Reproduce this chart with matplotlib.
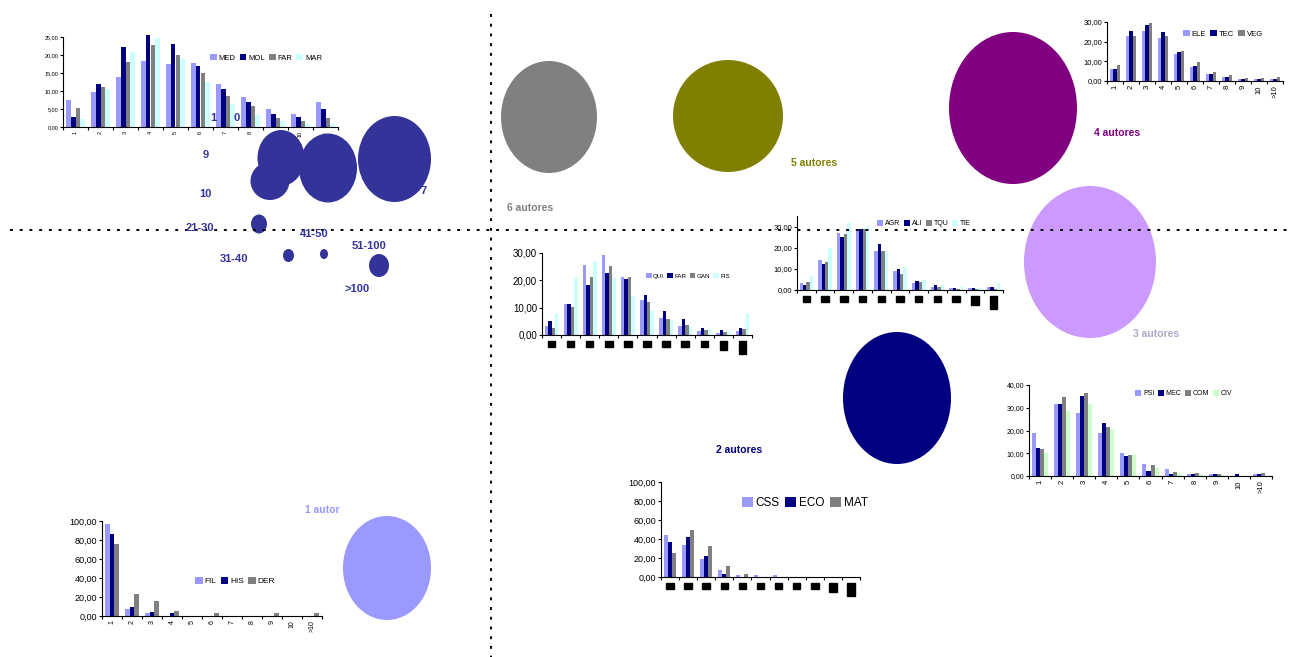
import matplotlib
matplotlib.use('Agg')
import matplotlib.pyplot as plt
from matplotlib.patches import Ellipse

plt.rcParams['font.family'] = ['Liberation Sans', 'DejaVu Sans']

W, H = 1290, 657

# categorias (numero de autores)
cats = ['1', '2', '3', '4', '5', '6', '7', '8', '9', '10', '>10']

# grafico arriba izquierda
med = [7.4, 9.7, 13.8, 18.3, 17.5, 17.9, 11.9, 8.3, 5.1, 3.7, 6.9]
mol = [2.8, 11.9, 22.1, 25.5, 23.0, 17.0, 10.6, 6.9, 3.7, 2.8, 5.1]
far1 = [5.2, 11.2, 18.1, 22.7, 19.9, 14.9, 8.5, 5.7, 2.5, 1.6, 2.5]
mar = [2.3, 10.6, 20.7, 24.8, 18.8, 12.4, 6.4, 3.2, 1.8, 0.9, 0.9]

# grafico arriba derecha
ele = [6.0, 23.0, 25.5, 22.1, 13.6, 7.0, 3.6, 1.9, 1.0, 1.0, 1.0]
tec = [6.0, 25.5, 28.6, 24.7, 14.5, 7.7, 3.6, 1.9, 1.0, 1.0, 1.0]
veg = [8.0, 23.0, 29.3, 23.0, 15.5, 9.7, 4.6, 2.9, 1.4, 1.4, 2.2]

# grafico centro
qui = [3.3, 11.3, 25.7, 29.4, 21.4, 12.9, 6.4, 3.3, 1.5, 0.6, 1.5]
far2 = [5.1, 11.3, 18.4, 22.6, 20.4, 14.7, 8.8, 5.8, 2.7, 1.7, 2.7]
gan = [2.4, 10.4, 21.2, 25.3, 21.2, 12.1, 5.9, 3.7, 1.8, 1.2, 2.2]
fis = [8.2, 21.4, 27.2, 20.8, 14.3, 8.8, 5.5, 3.1, 2.1, 1.5, 8.2]

# grafico centro derecha
agr = [3.2, 14.2, 26.8, 28.7, 18.5, 9.0, 3.5, 1.6, 0.8, 0.8, 1.6]
ali = [2.4, 12.2, 25.3, 28.7, 21.6, 9.8, 4.3, 2.4, 0.8, 0.8, 1.6]
tqu = [3.6, 13.4, 26.4, 28.9, 18.6, 7.7, 3.8, 1.4, 0.3, 0.3, 0.3]
tie = [6.6, 20.0, 31.6, 30.3, 18.2, 11.1, 4.7, 2.4, 1.6, 1.1, 3.2]

# grafico derecha
psi = [19.1, 31.5, 27.9, 19.1, 10.3, 5.1, 2.9, 0.7, 0.7, 0.0, 0.7]
mec = [12.5, 31.5, 35.3, 23.5, 8.8, 2.2, 0.7, 0.7, 0.7, 0.7, 0.7]
com = [12.0, 34.9, 36.3, 21.6, 9.1, 4.7, 1.8, 1.5, 0.7, 0.0, 1.2]
civ = [10.3, 28.5, 31.5, 20.6, 9.4, 3.7, 1.5, 0.7, 0.4, 0.0, 0.0]

# grafico abajo izquierda
fil = [97.2, 7.7, 2.8, 0, 0, 0, 0, 0, 0, 0, 0]
his = [86.7, 9.5, 4.2, 2.8, 0, 0, 0, 0, 0, 0, 0]
der = [75.4, 22.8, 15.8, 5.3, 0, 3.5, 0, 0, 3.5, 0, 3.5]

# grafico abajo centro
css = [43.9, 34.0, 19.3, 7.0, 1.8, 1.8, 1.8, 0, 0, 0, 0]
eco = [36.8, 42.1, 21.8, 3.5, 0, 0, 0, 0, 0, 0, 0]
mat = [25.6, 49.8, 32.3, 11.6, 2.8, 0, 0, 0, 0, 0, 0]

LILA = '#9999FF'
NAVY = '#000080'
GRIS = '#808080'
CIAN = '#CCFFFF'
VERDE = '#CCFFCC'
AZUL = '#333399'

fig = plt.figure(figsize=(W / 100, H / 100), dpi=100)


def px_axes(x0, ytop, x1, ybot):
    return fig.add_axes([x0 / W, 1 - ybot / H, (x1 - x0) / W, (ybot - ytop) / H])


def draw_chart(rect, series, names, colors, ymax, yticks, yfs, xfs,
               leg_xy, legfs, blocks=False):
    ax = px_axes(*rect)
    n = len(series)
    w = 1 / (n + 1.5)
    for i, (vals, name, col) in enumerate(zip(series, names, colors)):
        xs = [k - n * w / 2 + (i + 0.5) * w for k in range(len(cats))]
        ax.bar(xs, vals, width=w, color=col, label=name, linewidth=0, clip_on=False)
    ax.set_xlim(-0.5, len(cats) - 0.5)
    ax.set_ylim(0, ymax)
    ax.set_yticks(yticks)
    ax.set_yticklabels([('%.2f' % t).replace('.', ',') for t in yticks], fontsize=yfs)
    ax.set_xticks([k - 0.5 for k in range(len(cats) + 1)])
    ax.set_xticklabels([])
    ax.set_xticks(range(len(cats)), minor=True)
    if blocks:
        # etiquetas que en el original salen como bloques negros
        ax.set_xticklabels(cats, minor=True, rotation=90, fontsize=4.5, color='black',
                           va='top', ha='center')
        for lab in ax.get_xticklabels(minor=True):
            lab.set_bbox(dict(boxstyle='square,pad=0.2', facecolor='black',
                              edgecolor='black'))
        ax.tick_params(axis='x', which='minor', length=0, pad=5)
    else:
        ax.set_xticklabels(cats, minor=True, rotation=90, fontsize=xfs)
        ax.tick_params(axis='x', which='minor', length=0, pad=3)
    ax.tick_params(axis='x', which='major', length=2.5, width=0.8)
    ax.tick_params(axis='y', length=2, width=0.8, pad=1.5)
    for s in ['top', 'right']:
        ax.spines[s].set_visible(False)
    for s in ['left', 'bottom']:
        ax.spines[s].set_linewidth(0.8)
    ax.patch.set_alpha(0)
    ax.legend(loc='upper left', bbox_to_anchor=(leg_xy[0] / W, 1 - leg_xy[1] / H),
              bbox_transform=fig.transFigure, ncol=n, frameon=False, fontsize=legfs,
              handlelength=0.9, handleheight=0.9, handletextpad=0.25,
              columnspacing=0.5, borderpad=0, borderaxespad=0)
    return ax


draw_chart((63, 37, 338, 127), [med, mol, far1, mar], ['MED', 'MOL', 'FAR', 'MAR'],
           [LILA, NAVY, GRIS, CIAN], 25, [0, 5, 10, 15, 20, 25], 4, 4,
           (210, 54), 5.5)
draw_chart((1107, 22, 1283, 81), [ele, tec, veg], ['ELE', 'TEC', 'VEG'],
           [LILA, NAVY, GRIS], 30, [0, 10, 20, 30], 5.5, 5.5, (1183, 30), 5.5)
draw_chart((542, 253, 752, 335), [qui, far2, gan, fis], ['QUI', 'FAR', 'GAN', 'FIS'],
           [LILA, NAVY, GRIS, CIAN], 30, [0, 10, 20, 30], 7, 5, (646, 273), 4.5,
           blocks=True)
draw_chart((797, 216, 1003, 290), [agr, ali, tqu, tie], ['AGR', 'ALI', 'TQU', 'TIE'],
           [LILA, NAVY, GRIS, CIAN], 35, [0, 10, 20, 30], 5.5, 5, (877, 220), 5,
           blocks=True)
draw_chart((1029, 385, 1272, 476), [psi, mec, com, civ], ['PSI', 'MEC', 'COM', 'CIV'],
           [LILA, NAVY, GRIS, VERDE], 40, [0, 10, 20, 30, 40], 5, 5.5, (1135, 390), 5)
draw_chart((102, 521, 322, 616), [fil, his, der], ['FIL', 'HIS', 'DER'],
           [LILA, NAVY, GRIS], 100, [0, 20, 40, 60, 80, 100], 6.5, 5, (195, 577), 6)
draw_chart((661, 482, 860, 577), [css, eco, mat], ['CSS', 'ECO', 'MAT'],
           [LILA, NAVY, GRIS], 100, [0, 20, 40, 60, 80, 100], 6.5, 5, (742, 497), 8.5,
           blocks=True)

# capa superior: elipses, textos y lineas punteadas
ov = fig.add_axes([0, 0, 1, 1])
ov.set_xlim(0, W)
ov.set_ylim(H, 0)
ov.axis('off')
ov.patch.set_alpha(0)

ov.plot([491, 491], [14, H], color='black', lw=1.4, ls=(0, (1.5, 3.5)))
ov.plot([10, W], [230, 230], color='black', lw=1.4, ls=(0, (1.5, 3.5)))

elipses = [((549, 117), 96, 112, GRIS), ((728, 116), 110, 112, '#808000'),
           ((1013, 108), 128, 152, '#800080'), ((1090, 262), 132, 152, '#CC99FF'),
           ((897, 398), 108, 132, NAVY), ((387, 568), 88, 104, LILA),
           ((394.5, 159), 73, 86, AZUL), ((328, 168), 58, 69, AZUL),
           ((281, 158), 47, 56, AZUL), ((270, 181), 39, 38, AZUL),
           ((259, 224), 16, 19, AZUL), ((288.5, 255.5), 11, 13, AZUL),
           ((324, 254), 8, 10, AZUL), ((379, 265.5), 20, 23, AZUL)]
for c, ew, eh, col in elipses:
    ov.add_patch(Ellipse(c, ew, eh, facecolor=col, edgecolor='none'))

etiquetas = [(213, 118, '1'), (237, 118, '0'), (206, 155, '9'), (205, 194, '10'),
             (200, 228, '21-30'), (234, 259, '31-40'), (314, 234, '41-50'),
             (369, 246, '51-100'), (357, 289, '>100'), (424, 191, '7')]
for x, y, t in etiquetas:
    ov.text(x, y, t, color=AZUL, fontsize=8, fontweight='bold', ha='center', va='center')

autores = [(507, 208, '6 autores', GRIS), (791, 163, '5 autores', '#808000'),
           (1094, 133, '4 autores', '#800080'), (1133, 334, '3 autores', '#B0A8C8'),
           (716, 450, '2 autores', NAVY), (305, 510, '1 autor', LILA)]
for x, y, t, col in autores:
    ov.text(x, y, t, color=col, fontsize=7.5, fontweight='bold', ha='left', va='center')

fig.savefig('out.png', dpi=100)
